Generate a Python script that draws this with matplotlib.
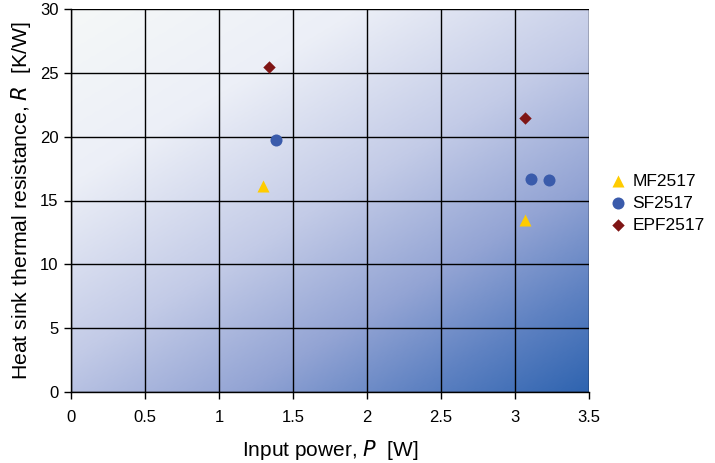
import numpy as np
import matplotlib
matplotlib.use("Agg")
import matplotlib.pyplot as plt
from matplotlib.colors import LinearSegmentedColormap

plt.rcParams["font.family"] = ["Liberation Sans", "DejaVu Sans"]

# data
mf_p = [1.30, 3.07]
mf_r = [16.1, 13.5]
sf_p = [1.385, 3.11, 3.23]
sf_r = [19.7, 16.7, 16.6]
epf_p = [1.34, 3.07]
epf_r = [25.45, 21.5]

fig = plt.figure(figsize=(7.15, 4.63), dpi=100)
ax = fig.add_axes([71 / 715, 1 - 392 / 463, 518 / 715, 383 / 463])

# diagonal background gradient, white top-left to blue bottom-right
cmap = LinearSegmentedColormap.from_list(
    "bg", [(0.0, "#f5f8f8"), (0.25, "#eceff7"), (0.5, "#c3cbe7"),
           (0.7, "#93a4d4"), (0.85, "#5f82c2"), (1.0, "#2f64b0")])
gx, gy = np.meshgrid(np.linspace(0, 1, 300), np.linspace(0, 1, 300))
grad = 0.45 * gx + 0.55 * (1 - gy)
ax.imshow(grad, cmap=cmap, extent=[0, 3.5, 0, 30], origin="lower",
          aspect="auto", zorder=0, interpolation="bilinear")

ax.set_xlim(0, 3.5)
ax.set_ylim(0, 30)
ax.set_xticks(np.arange(0, 3.51, 0.5))
ax.set_xticklabels(["0", "0.5", "1", "1.5", "2", "2.5", "3", "3.5"])
ax.set_yticks(np.arange(0, 31, 5))
ax.grid(True, color="black", linewidth=1.0, zorder=1)
ax.set_axisbelow(False)
for s in ["top", "right"]:
    ax.spines[s].set_visible(False)
for s in ["left", "bottom"]:
    ax.spines[s].set_color("black")
    ax.spines[s].set_linewidth(1.0)
ax.tick_params(direction="out", length=5, width=1, labelsize=12, pad=8)
ax.tick_params(axis="y", pad=4)

ax.scatter(mf_p, mf_r, marker="^", s=75, color="#ffcc00", zorder=3, label="MF2517", linewidths=0)
ax.scatter(sf_p, sf_r, marker="o", s=75, color="#3a5bab", zorder=3, label="SF2517", linewidths=0)
ax.scatter(epf_p, epf_r, marker="D", s=40, color="#7f1515", zorder=3, label="EPF2517", linewidths=0)

ax.set_xlabel("Input power, $\\it{P}$  [W]", fontsize=15, labelpad=9)
ax.set_ylabel("Heat sink thermal resistance, $\\it{R}$  [K/W]", fontsize=15.3, labelpad=5)

ax.legend(loc="center left", bbox_to_anchor=(1.03, 0.493), frameon=False,
          fontsize=12.5, handlelength=0.8, handletextpad=0.4,
          labelspacing=0.4, borderaxespad=0)

fig.savefig("out.png", dpi=100)
